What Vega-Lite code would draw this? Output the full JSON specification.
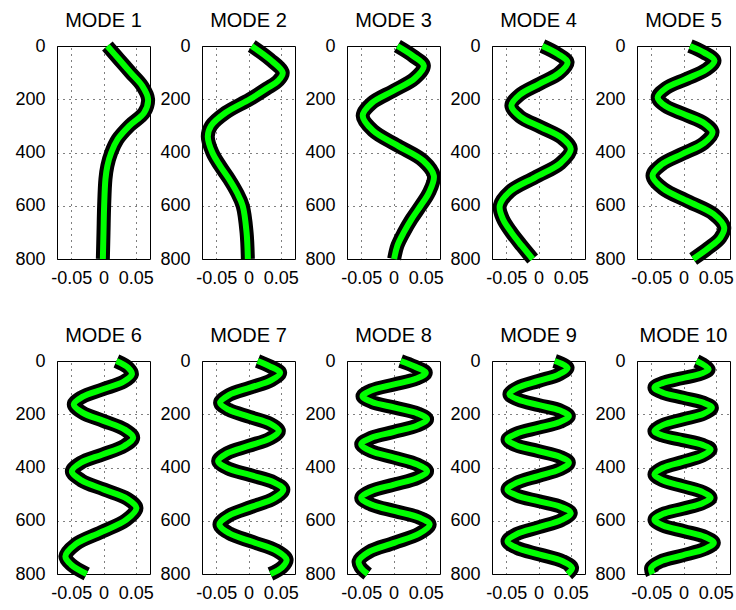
{
  "$schema": "https://vega.github.io/schema/vega-lite/v6.json",
  "background": "white",
  "padding": {"left": 14, "top": 10, "right": 5, "bottom": 5},
  "bounds": "flush",
  "columns": 5,
  "spacing": {"column": 52, "row": 102},
  "data": {"values": [
    {"m":1,"d":0,"v":0.006},{"m":1,"d":50,"v":0.024},{"m":1,"d":100,"v":0.042},{"m":1,"d":150,"v":0.060},{"m":1,"d":200,"v":0.069},{"m":1,"d":250,"v":0.063},{"m":1,"d":300,"v":0.040},{"m":1,"d":350,"v":0.022},{"m":1,"d":400,"v":0.012},{"m":1,"d":450,"v":0.006},{"m":1,"d":500,"v":0.003},{"m":1,"d":600,"v":0.001},{"m":1,"d":700,"v":0.0},{"m":1,"d":800,"v":-0.001},
    {"m":2,"d":0,"v":0.005},{"m":2,"d":50,"v":0.033},{"m":2,"d":100,"v":0.053},{"m":2,"d":130,"v":0.046},{"m":2,"d":160,"v":0.028},{"m":2,"d":200,"v":0.002},{"m":2,"d":250,"v":-0.035},{"m":2,"d":300,"v":-0.058},{"m":2,"d":340,"v":-0.063},{"m":2,"d":400,"v":-0.056},{"m":2,"d":450,"v":-0.044},{"m":2,"d":500,"v":-0.030},{"m":2,"d":550,"v":-0.018},{"m":2,"d":600,"v":-0.009},{"m":2,"d":700,"v":-0.003},{"m":2,"d":800,"v":-0.001},
    {"m":3,"d":0,"v":0.006},{"m":3,"d":37,"v":0.030},{"m":3,"d":74,"v":0.047},{"m":3,"d":121,"v":0.033},{"m":3,"d":168,"v":0.0},{"m":3,"d":215,"v":-0.034},{"m":3,"d":262,"v":-0.0477},{"m":3,"d":318,"v":-0.0316},{"m":3,"d":375,"v":0.007},{"m":3,"d":431,"v":0.046},{"m":3,"d":487,"v":0.0625},{"m":3,"d":550,"v":0.055},{"m":3,"d":600,"v":0.042},{"m":3,"d":650,"v":0.028},{"m":3,"d":700,"v":0.016},{"m":3,"d":750,"v":0.006},{"m":3,"d":800,"v":0.001},
    {"m":4,"d":0,"v":0.006},{"m":4,"d":30,"v":0.030},{"m":4,"d":61,"v":0.045},{"m":4,"d":102,"v":0.032},{"m":4,"d":142,"v":0.0015},{"m":4,"d":183,"v":-0.029},{"m":4,"d":224,"v":-0.042},{"m":4,"d":265,"v":-0.0286},{"m":4,"d":305,"v":0.004},{"m":4,"d":346,"v":0.0366},{"m":4,"d":387,"v":0.050},{"m":4,"d":440,"v":0.034},{"m":4,"d":493,"v":-0.005},{"m":4,"d":546,"v":-0.044},{"m":4,"d":600,"v":-0.060},{"m":4,"d":650,"v":-0.055},{"m":4,"d":700,"v":-0.042},{"m":4,"d":750,"v":-0.026},{"m":4,"d":800,"v":-0.009},
    {"m":5,"d":0,"v":0.010},{"m":5,"d":25,"v":0.032},{"m":5,"d":55,"v":0.048},{"m":5,"d":89,"v":0.035},{"m":5,"d":124,"v":0.004},{"m":5,"d":158,"v":-0.027},{"m":5,"d":193,"v":-0.040},{"m":5,"d":226,"v":-0.0276},{"m":5,"d":258,"v":0.0025},{"m":5,"d":291,"v":0.0326},{"m":5,"d":324,"v":0.045},{"m":5,"d":365,"v":0.0314},{"m":5,"d":405,"v":-0.0015},{"m":5,"d":446,"v":-0.0344},{"m":5,"d":487,"v":-0.048},{"m":5,"d":535,"v":-0.0318},{"m":5,"d":584,"v":0.0075},{"m":5,"d":632,"v":0.0468},{"m":5,"d":681,"v":0.063},{"m":5,"d":720,"v":0.057},{"m":5,"d":760,"v":0.038},{"m":5,"d":800,"v":0.015},
    {"m":6,"d":0,"v":0.020},{"m":6,"d":25,"v":0.038},{"m":6,"d":50,"v":0.044},{"m":6,"d":78,"v":0.0309},{"m":6,"d":106,"v":-0.001},{"m":6,"d":135,"v":-0.0329},{"m":6,"d":163,"v":-0.046},{"m":6,"d":194,"v":-0.0326},{"m":6,"d":225,"v":0.0},{"m":6,"d":257,"v":0.0326},{"m":6,"d":288,"v":0.046},{"m":6,"d":319,"v":0.0321},{"m":6,"d":351,"v":-0.0015},{"m":6,"d":382,"v":-0.0351},{"m":6,"d":414,"v":-0.049},{"m":6,"d":448,"v":-0.0344},{"m":6,"d":483,"v":0.001},{"m":6,"d":517,"v":0.0364},{"m":6,"d":552,"v":0.051},{"m":6,"d":597,"v":0.035},{"m":6,"d":643,"v":-0.004},{"m":6,"d":688,"v":-0.043},{"m":6,"d":734,"v":-0.059},{"m":6,"d":765,"v":-0.050},{"m":6,"d":800,"v":-0.026},
    {"m":7,"d":0,"v":0.014},{"m":7,"d":20,"v":0.033},{"m":7,"d":44,"v":0.049},{"m":7,"d":72,"v":0.0354},{"m":7,"d":100,"v":0.0025},{"m":7,"d":128,"v":-0.0304},{"m":7,"d":157,"v":-0.044},{"m":7,"d":183,"v":-0.0307},{"m":7,"d":210,"v":0.0015},{"m":7,"d":236,"v":0.0337},{"m":7,"d":263,"v":0.047},{"m":7,"d":291,"v":0.0333},{"m":7,"d":319,"v":0.0},{"m":7,"d":347,"v":-0.0333},{"m":7,"d":376,"v":-0.047},{"m":7,"d":403,"v":-0.0323},{"m":7,"d":429,"v":0.0035},{"m":7,"d":456,"v":0.0393},{"m":7,"d":483,"v":0.054},{"m":7,"d":516,"v":0.0395},{"m":7,"d":548,"v":0.0045},{"m":7,"d":581,"v":-0.0305},{"m":7,"d":614,"v":-0.045},{"m":7,"d":647,"v":-0.0298},{"m":7,"d":680,"v":0.007},{"m":7,"d":713,"v":0.0438},{"m":7,"d":746,"v":0.059},{"m":7,"d":775,"v":0.052},{"m":7,"d":800,"v":0.034},
    {"m":8,"d":0,"v":0.011},{"m":8,"d":20,"v":0.032},{"m":8,"d":44,"v":0.050},{"m":8,"d":66,"v":0.0357},{"m":8,"d":88,"v":0.001},{"m":8,"d":110,"v":-0.0337},{"m":8,"d":132,"v":-0.048},{"m":8,"d":154,"v":-0.0334},{"m":8,"d":175,"v":0.002},{"m":8,"d":197,"v":0.0374},{"m":8,"d":219,"v":0.052},{"m":8,"d":242,"v":0.0371},{"m":8,"d":266,"v":0.001},{"m":8,"d":289,"v":-0.0351},{"m":8,"d":313,"v":-0.050},{"m":8,"d":338,"v":-0.0351},{"m":8,"d":363,"v":0.001},{"m":8,"d":389,"v":0.0371},{"m":8,"d":414,"v":0.052},{"m":8,"d":439,"v":0.0371},{"m":8,"d":464,"v":0.001},{"m":8,"d":489,"v":-0.0351},{"m":8,"d":514,"v":-0.050},{"m":8,"d":539,"v":-0.0345},{"m":8,"d":564,"v":0.003},{"m":8,"d":589,"v":0.0405},{"m":8,"d":614,"v":0.056},{"m":8,"d":648,"v":0.0399},{"m":8,"d":683,"v":0.001},{"m":8,"d":717,"v":-0.038},{"m":8,"d":752,"v":-0.054},{"m":8,"d":775,"v":-0.051},{"m":8,"d":800,"v":-0.040},
    {"m":9,"d":0,"v":0.025},{"m":9,"d":25,"v":0.045},{"m":9,"d":50,"v":0.0319},{"m":9,"d":75,"v":0.0},{"m":9,"d":100,"v":-0.0319},{"m":9,"d":125,"v":-0.045},{"m":9,"d":145,"v":-0.0316},{"m":9,"d":166,"v":0.001},{"m":9,"d":186,"v":0.0336},{"m":9,"d":207,"v":0.047},{"m":9,"d":229,"v":0.0331},{"m":9,"d":251,"v":-0.0005},{"m":9,"d":273,"v":-0.0341},{"m":9,"d":295,"v":-0.048},{"m":9,"d":317,"v":-0.0341},{"m":9,"d":338,"v":-0.0005},{"m":9,"d":360,"v":0.0331},{"m":9,"d":382,"v":0.047},{"m":9,"d":407,"v":0.0331},{"m":9,"d":432,"v":-0.0005},{"m":9,"d":458,"v":-0.0341},{"m":9,"d":483,"v":-0.048},{"m":9,"d":505,"v":-0.0337},{"m":9,"d":527,"v":0.001},{"m":9,"d":549,"v":0.0357},{"m":9,"d":571,"v":0.050},{"m":9,"d":597,"v":0.0357},{"m":9,"d":624,"v":0.001},{"m":9,"d":650,"v":-0.0337},{"m":9,"d":677,"v":-0.048},{"m":9,"d":702,"v":-0.0334},{"m":9,"d":727,"v":0.002},{"m":9,"d":752,"v":0.0374},{"m":9,"d":777,"v":0.052},{"m":9,"d":800,"v":0.045},
    {"m":10,"d":0,"v":0.020},{"m":10,"d":31,"v":0.039},{"m":10,"d":48,"v":0.0267},{"m":10,"d":65,"v":-0.003},{"m":10,"d":83,"v":-0.0327},{"m":10,"d":100,"v":-0.045},{"m":10,"d":119,"v":-0.032},{"m":10,"d":138,"v":-0.0005},{"m":10,"d":157,"v":0.031},{"m":10,"d":176,"v":0.044},{"m":10,"d":198,"v":0.031},{"m":10,"d":219,"v":-0.0005},{"m":10,"d":241,"v":-0.032},{"m":10,"d":263,"v":-0.045},{"m":10,"d":280,"v":-0.0323},{"m":10,"d":297,"v":-0.0015},{"m":10,"d":315,"v":0.0293},{"m":10,"d":332,"v":0.042},{"m":10,"d":355,"v":0.0293},{"m":10,"d":379,"v":-0.0015},{"m":10,"d":402,"v":-0.0323},{"m":10,"d":426,"v":-0.045},{"m":10,"d":448,"v":-0.0323},{"m":10,"d":470,"v":-0.0015},{"m":10,"d":492,"v":0.0293},{"m":10,"d":514,"v":0.042},{"m":10,"d":534,"v":0.0293},{"m":10,"d":555,"v":-0.0015},{"m":10,"d":575,"v":-0.0323},{"m":10,"d":596,"v":-0.045},{"m":10,"d":618,"v":-0.0316},{"m":10,"d":639,"v":0.001},{"m":10,"d":661,"v":0.0336},{"m":10,"d":683,"v":0.047},{"m":10,"d":706,"v":0.0328},{"m":10,"d":730,"v":-0.0015},{"m":10,"d":753,"v":-0.0358},{"m":10,"d":777,"v":-0.050},{"m":10,"d":800,"v":-0.048}
  ]},
  "facet": {
    "field": "m",
    "type": "ordinal",
    "sort": "ascending",
    "title": null,
    "header": {
      "labelExpr": "'MODE ' + datum.value",
      "labelFont": "Liberation Sans",
      "labelFontSize": 20,
      "labelColor": "black",
      "labelPadding": 6
    }
  },
  "resolve": {"axis": {"x": "independent", "y": "independent"}},
  "spec": {
    "width": 93,
    "height": 213,
    "encoding": {
      "x": {
        "field": "v",
        "type": "quantitative",
        "scale": {"domain": [-0.072, 0.072], "nice": false, "zero": false},
        "axis": {
          "title": null,
          "values": [-0.05, 0, 0.05],
          "labelExpr": "replace(format(datum.value, '~g'), '\u2212', '-')",
          "labelFlush": false,
          "labelOverlap": false,
          "labelPadding": 10
        }
      },
      "y": {
        "field": "d",
        "type": "quantitative",
        "scale": {"domain": [0, 800], "reverse": true, "nice": false, "zero": false},
        "axis": {
          "title": null,
          "values": [0, 200, 400, 600, 800],
          "labelFlush": false,
          "labelOverlap": false,
          "labelPadding": 12
        }
      },
      "order": {"field": "d", "type": "quantitative"}
    },
    "layer": [
      {"mark": {"type": "line", "color": "black", "strokeWidth": 14, "interpolate": "catmull-rom", "strokeCap": "butt", "strokeJoin": "round"}},
      {"mark": {"type": "line", "color": "#00ff00", "strokeWidth": 6, "interpolate": "catmull-rom", "strokeCap": "butt", "strokeJoin": "round"}}
    ]
  },
  "config": {
    "view": {"stroke": "black", "strokeWidth": 1},
    "axis": {
      "grid": true,
      "gridColor": "black",
      "gridOpacity": 1,
      "gridDash": [1, 5],
      "gridWidth": 1,
      "domain": false,
      "ticks": false,
      "labelFont": "Liberation Sans",
      "labelFontSize": 18,
      "labelColor": "black"
    }
  }
}
